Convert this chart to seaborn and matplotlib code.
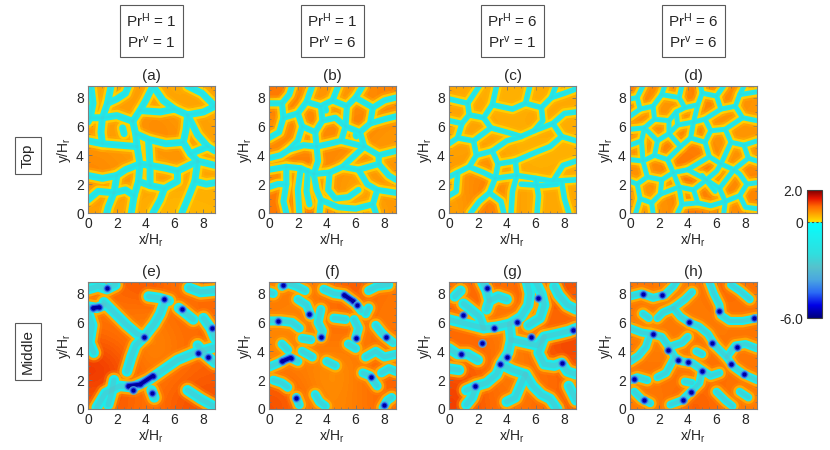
import numpy as np
import matplotlib
matplotlib.use("Agg")
import matplotlib.pyplot as plt
import seaborn as sns
from matplotlib.colors import LinearSegmentedColormap, Normalize
from matplotlib.cm import ScalarMappable

# ---- values ----
VMIN, VMAX = -6.0, 2.0
XMAX = 8.8
tick_vals = [0, 2, 4, 6, 8]
pr_h = ["1", "1", "6", "6"]
pr_v = ["1", "6", "1", "6"]
row_names = ["Top", "Middle"]
panel_tags = ["(a)", "(b)", "(c)", "(d)", "(e)", "(f)", "(g)", "(h)"]
cbar_ticks = [-6.0, 0.0, 2.0]
cbar_labels = ["-6.0", "0", "2.0"]

# coarse background level of the warm (upflow) regions, rows from top to bottom
bg_a = [[0.5, 0.6, 0.55, 0.45, 0.55], [0.6, 0.5, 0.85, 0.65, 0.5], [0.65, 0.6, 0.55, 0.75, 0.6],
        [0.8, 0.65, 0.6, 0.55, 0.5], [0.55, 0.5, 0.4, 0.35, 0.4]]
bg_b = [[0.9, 0.65, 0.6, 0.65, 0.8], [0.65, 0.85, 0.65, 0.9, 0.65], [0.75, 0.7, 0.8, 0.65, 0.6],
        [0.8, 0.95, 0.65, 0.55, 0.65], [0.85, 1.0, 0.65, 0.5, 0.6]]
bg_c = [[0.5, 0.45, 0.4, 0.45, 0.5], [0.55, 0.5, 0.45, 0.55, 0.45], [0.5, 0.55, 0.4, 0.35, 0.4],
        [0.65, 0.85, 0.55, 0.45, 0.5], [0.55, 0.9, 0.55, 0.45, 0.5]]
bg_d = [[0.8, 0.6, 0.85, 0.8, 0.65], [0.65, 0.55, 0.7, 0.6, 0.65], [0.7, 0.85, 0.9, 0.65, 0.6],
        [0.65, 0.75, 0.95, 0.7, 0.8], [0.6, 0.65, 0.9, 0.65, 0.75]]
bg_e = [[0.95, 1.05, 1.1, 0.9, 1.0], [0.9, 0.85, 0.8, 1.0, 0.95], [1.1, 1.0, 0.7, 0.9, 1.0],
        [1.35, 1.1, 0.85, 0.95, 1.05], [1.1, 1.05, 0.9, 1.1, 1.15]]
bg_f = [[0.85, 0.8, 0.95, 1.1, 0.9], [0.8, 0.75, 1.0, 0.95, 0.85], [0.7, 0.85, 0.9, 0.8, 1.0],
        [0.9, 0.8, 0.6, 0.85, 1.05], [1.15, 0.9, 0.7, 0.85, 1.0]]
bg_g = [[0.95, 1.05, 0.9, 1.2, 1.1], [1.0, 0.85, 0.8, 0.9, 0.95], [0.95, 1.05, 0.7, 1.1, 1.3],
        [1.1, 0.95, 0.8, 0.9, 1.0], [1.25, 1.0, 0.9, 0.95, 1.05]]
bg_h = [[0.9, 0.85, 0.8, 1.05, 0.9], [0.8, 0.9, 0.85, 0.8, 0.95], [0.85, 0.75, 0.95, 0.9, 0.85],
        [0.9, 0.95, 0.8, 1.0, 0.9], [0.85, 0.9, 1.1, 0.95, 0.85]]

# downflow lanes (x, y in H_r)
lanes_a = [
    [(0.2, 8.8), (0.35, 7.6), (0.15, 6.6), (0.0, 6.3)],
    [(0.15, 6.6), (1.0, 6.6), (2.0, 6.75), (3.1, 6.35)],
    [(1.6, 8.8), (1.35, 7.6), (1.0, 6.6)],
    [(1.35, 7.6), (2.0, 7.9), (2.6, 8.3), (2.8, 8.8)],
    [(3.1, 6.35), (3.6, 7.1), (4.0, 7.8), (4.5, 8.8)],
    [(1.0, 6.6), (0.9, 5.6), (1.0, 4.8)],
    [(0.0, 5.0), (1.0, 4.8), (2.2, 4.7), (3.4, 4.6)],
    [(3.1, 6.35), (3.3, 5.5), (3.4, 4.6)],
    [(3.3, 5.5), (4.2, 5.1), (5.4, 4.8), (6.6, 4.9)],
    [(3.6, 7.1), (5.0, 7.0), (6.0, 7.2)],
    [(4.5, 8.8), (5.2, 7.8), (6.0, 7.2), (6.9, 6.8), (8.0, 7.0), (8.8, 7.4)],
    [(6.9, 8.8), (7.9, 8.3), (8.8, 7.4)],
    [(6.9, 6.8), (6.8, 5.8), (6.6, 4.9), (7.1, 4.1), (7.6, 3.6)],
    [(6.9, 6.8), (7.6, 5.4), (8.3, 4.6), (8.8, 4.3)],
    [(7.1, 4.1), (7.8, 4.4), (8.3, 4.6)],
    [(3.4, 4.6), (3.6, 3.4), (3.5, 2.2), (3.2, 1.2), (3.0, 0.0)],
    [(3.6, 3.4), (4.3, 3.3), (5.4, 3.1), (6.2, 2.9), (7.0, 3.3), (7.6, 3.6), (8.8, 3.3)],
    [(4.2, 5.0), (4.3, 3.3), (4.3, 1.9)],
    [(3.5, 2.2), (4.3, 1.9), (5.3, 1.7), (6.2, 2.2), (6.2, 2.9)],
    [(7.6, 3.6), (7.4, 2.2), (7.0, 1.2), (6.5, 0.0)],
    [(5.3, 1.7), (5.0, 0.9), (4.5, 0.0)],
    [(0.0, 2.6), (1.0, 2.4), (2.0, 2.6), (2.6, 3.0), (3.6, 3.4)],
    [(2.0, 2.6), (1.8, 1.4), (1.4, 0.4), (1.3, 0.0)],
    [(1.8, 1.4), (2.6, 1.6), (3.2, 1.2)],
    [(0.0, 0.9), (0.7, 1.5), (1.8, 1.4)],
    [(7.4, 2.2), (8.2, 2.0), (8.8, 2.1)],
    [(2.4, 5.9), (2.5, 5.5)],
    [(7.6, 3.5), (7.62, 3.52)],
]
lanes_b = [
    [(0.0, 7.6), (0.9, 7.6), (1.4, 8.2), (1.6, 8.8)],
    [(0.9, 7.6), (1.0, 6.6), (0.7, 5.6), (0.0, 5.2)],
    [(1.0, 6.6), (2.0, 6.9), (2.6, 7.7), (3.0, 8.8)],
    [(2.0, 6.9), (2.3, 6.0), (2.0, 5.0), (1.4, 4.4)],
    [(0.0, 3.8), (0.8, 4.0), (1.4, 4.4), (2.4, 4.7), (3.3, 4.6)],
    [(2.3, 6.0), (3.2, 5.6), (3.3, 4.6)],
    [(2.6, 7.7), (3.6, 7.4), (4.4, 7.8), (4.8, 8.8)],
    [(3.6, 7.4), (3.7, 6.4), (3.2, 5.6)],
    [(3.7, 6.4), (4.6, 6.6), (5.3, 6.0), (5.0, 5.0), (4.2, 4.8), (3.3, 4.6)],
    [(4.4, 7.8), (5.4, 7.4), (6.0, 8.0), (6.5, 8.8)],
    [(5.4, 7.4), (5.3, 6.0)],
    [(5.3, 6.0), (6.3, 5.6), (7.0, 6.2), (7.2, 7.3), (6.0, 8.0)],
    [(7.2, 7.3), (8.0, 7.8), (8.8, 8.0)],
    [(7.0, 6.2), (8.0, 6.5), (8.8, 6.7)],
    [(6.3, 5.6), (6.6, 4.6), (7.6, 4.0), (8.8, 4.3)],
    [(5.0, 5.0), (6.6, 4.6)],
    [(0.0, 3.0), (1.2, 3.2), (2.2, 3.1), (3.1, 2.7), (4.2, 2.8), (5.1, 3.2), (6.6, 4.6)],
    [(3.3, 4.6), (3.4, 3.6), (3.1, 2.7)],
    [(5.1, 3.2), (6.2, 3.0), (7.6, 3.4), (7.6, 4.0)],
    [(7.6, 3.4), (8.3, 2.6), (8.8, 2.3)],
    [(1.2, 3.2), (1.2, 2.0), (1.0, 0.8), (1.2, 0.0)],
    [(2.2, 3.1), (2.0, 1.6), (2.1, 0.0)],
    [(2.7, 2.9), (2.6, 1.5), (2.8, 0.6)],
    [(3.1, 2.7), (3.3, 1.6), (3.6, 0.9), (3.5, 0.0)],
    [(0.0, 1.8), (0.6, 2.0), (1.2, 2.0)],
    [(4.2, 2.8), (4.1, 1.6), (4.6, 1.0), (5.5, 1.1), (6.2, 1.6)],
    [(6.2, 3.0), (6.8, 2.0), (7.5, 1.6), (8.8, 1.4)],
    [(7.5, 1.6), (7.2, 0.6), (7.4, 0.0)],
    [(3.6, 0.9), (4.8, 0.4), (6.0, 0.3), (7.2, 0.6)],
    [(3.9, 7.3), (3.95, 7.1)],
    [(6.0, 5.4), (6.05, 5.3)],
]
lanes_c = [
    [(0.0, 7.9), (1.3, 7.6), (2.1, 8.8)],
    [(1.3, 7.6), (1.4, 6.8), (0.9, 6.2), (0.0, 6.4)],
    [(1.4, 6.8), (2.4, 6.6), (3.0, 7.5), (3.3, 8.8)],
    [(3.0, 7.5), (4.4, 7.2), (5.3, 7.6), (5.6, 8.8)],
    [(5.3, 7.6), (6.4, 7.3), (7.1, 8.0), (7.4, 8.8)],
    [(7.1, 8.0), (8.0, 8.3), (8.8, 8.6)],
    [(6.4, 7.3), (6.5, 6.4), (5.9, 5.7)],
    [(2.4, 6.6), (2.9, 5.9), (4.0, 5.6), (5.0, 5.3), (5.9, 5.7), (7.2, 6.2), (8.0, 6.9), (8.8, 7.0)],
    [(7.2, 6.2), (7.8, 5.3), (8.8, 5.0)],
    [(0.9, 6.2), (0.6, 5.2), (0.0, 4.8)],
    [(0.6, 5.2), (1.7, 5.0), (2.9, 5.9)],
    [(1.7, 5.0), (1.9, 4.0), (1.4, 3.2), (0.6, 2.8), (0.0, 2.5)],
    [(1.9, 4.0), (3.0, 4.3), (4.0, 5.0), (5.0, 5.3)],
    [(3.0, 4.3), (3.4, 3.4), (3.2, 2.4)],
    [(3.4, 3.4), (4.6, 3.6), (6.0, 4.2), (7.0, 4.6), (7.8, 5.3)],
    [(4.6, 3.6), (4.7, 2.6), (4.4, 1.5), (4.3, 0.0)],
    [(1.4, 3.2), (2.4, 2.8), (3.2, 2.4), (4.7, 2.6)],
    [(4.7, 2.6), (6.0, 2.4), (7.2, 2.2), (8.8, 2.3)],
    [(5.0, 2.0), (6.5, 1.9), (7.5, 2.0)],
    [(7.2, 2.2), (7.9, 3.3), (8.8, 3.6)],
    [(3.2, 2.4), (2.8, 1.4), (2.1, 0.8), (1.5, 0.0)],
    [(0.6, 2.8), (0.5, 1.5), (0.0, 1.2)],
    [(2.8, 1.4), (3.6, 0.8), (3.8, 0.0)],
    [(6.0, 2.4), (6.2, 1.2), (6.1, 0.0)],
    [(7.8, 2.2), (8.0, 1.0), (8.3, 0.0)],
]
lanes_d = [
    [(0.0, 7.9), (0.5, 8.0), (0.9, 8.8)],
    [(0.5, 8.0), (0.7, 7.2), (0.0, 6.7)],
    [(0.7, 7.2), (1.6, 7.4), (2.2, 8.2), (2.4, 8.8)],
    [(2.2, 8.2), (3.4, 8.0), (3.6, 8.8)],
    [(3.4, 8.0), (3.8, 7.3), (4.7, 7.5), (5.0, 8.3), (4.9, 8.8)],
    [(5.0, 8.3), (6.0, 8.1), (6.5, 8.8)],
    [(6.0, 8.1), (6.3, 7.2), (7.3, 7.4), (7.6, 8.2), (8.8, 8.4)],
    [(7.6, 8.2), (7.9, 8.8)],
    [(7.3, 7.4), (7.8, 6.6), (8.8, 6.4)],
    [(1.6, 7.4), (1.7, 6.5), (1.0, 5.9), (0.0, 5.8)],
    [(1.7, 6.5), (2.7, 6.4), (3.2, 7.0), (3.8, 7.3)],
    [(3.2, 7.0), (3.3, 6.1), (2.7, 5.5)],
    [(2.7, 6.4), (2.7, 5.5), (1.9, 5.0), (1.0, 5.9)],
    [(1.0, 5.9), (0.8, 5.0), (0.0, 4.7)],
    [(3.3, 6.1), (4.4, 6.3), (4.7, 7.5)],
    [(4.4, 6.3), (5.2, 6.5), (6.3, 7.2)],
    [(5.2, 6.5), (5.6, 5.7), (6.6, 5.8), (7.8, 6.6)],
    [(6.6, 5.8), (7.0, 4.9), (7.9, 4.7), (8.8, 5.0)],
    [(7.9, 4.7), (8.2, 3.8), (8.8, 3.6)],
    [(4.4, 6.3), (4.2, 5.2), (3.5, 4.6), (2.7, 5.5)],
    [(4.2, 5.2), (5.2, 4.9), (5.6, 5.7)],
    [(5.2, 4.9), (5.5, 3.9), (6.3, 3.4), (7.0, 4.9)],
    [(6.3, 3.4), (7.2, 3.0), (8.2, 3.8)],
    [(1.9, 5.0), (1.7, 4.0), (0.9, 3.6), (0.0, 3.7)],
    [(0.8, 5.0), (0.9, 3.6)],
    [(1.7, 4.0), (2.6, 3.7), (3.5, 4.6)],
    [(2.6, 3.7), (3.0, 2.8), (4.0, 3.0), (5.5, 3.9)],
    [(3.0, 2.8), (2.2, 2.3), (1.2, 2.5), (0.9, 3.6)],
    [(1.2, 2.5), (0.5, 2.0), (0.0, 2.2)],
    [(0.5, 2.0), (0.7, 1.0), (0.4, 0.0)],
    [(2.2, 2.3), (2.1, 1.3), (1.5, 0.7), (0.7, 1.0)],
    [(1.5, 0.7), (1.6, 0.0)],
    [(3.0, 2.8), (3.4, 1.8), (2.1, 1.3)],
    [(3.4, 1.8), (4.4, 1.6), (5.3, 2.3), (4.0, 3.0)],
    [(4.4, 1.6), (4.7, 0.7), (3.6, 0.6), (3.4, 1.8)],
    [(3.6, 0.6), (3.3, 0.0)],
    [(5.3, 2.3), (6.0, 2.9), (6.3, 3.4)],
    [(5.3, 2.3), (6.2, 1.7), (7.2, 3.0)],
    [(5.0, 2.6), (5.9, 1.5)],
    [(6.2, 1.7), (6.6, 0.8), (6.5, 0.0)],
    [(4.7, 0.7), (5.6, 0.5), (6.6, 0.8)],
    [(6.6, 0.8), (7.6, 1.2), (8.1, 2.0), (8.8, 2.1)],
    [(8.1, 2.0), (7.6, 2.7), (7.2, 3.0)],
    [(7.6, 1.2), (8.0, 0.4), (8.8, 0.3)],
]

# plume paths and dark cores
lanes_e = [
    [(0.0, 8.3), (0.7, 8.5), (1.3, 8.3), (1.9, 8.6)],
    [(0.0, 7.1), (0.6, 7.0), (1.1, 7.2)],
    [(0.0, 6.7), (0.3, 5.8), (0.1, 4.6), (0.4, 3.9)],
    [(1.1, 7.4), (1.9, 6.6), (2.7, 5.8), (3.4, 5.2), (3.9, 5.0)],
    [(3.9, 5.0), (4.6, 5.9), (5.0, 6.6), (5.3, 7.4)],
    [(3.9, 5.0), (3.3, 4.4), (3.0, 3.6), (2.7, 2.6)],
    [(0.6, 0.1), (1.2, 1.1), (2.2, 1.6), (3.1, 1.5), (4.2, 2.0), (5.2, 2.7), (6.2, 3.4), (7.4, 3.9), (8.8, 4.3)],
    [(4.2, 7.8), (4.9, 7.7), (5.6, 7.5)],
    [(6.3, 7.0), (6.8, 6.6), (7.3, 6.2)],
    [(7.0, 8.4), (7.8, 8.1), (8.8, 8.2)],
    [(8.0, 6.3), (8.5, 5.6), (8.8, 4.9)],
    [(7.6, 4.4), (8.1, 3.8), (8.8, 3.2)],
    [(6.9, 1.3), (7.8, 0.7), (8.7, 0.2)],
    [(4.4, 1.3), (4.6, 0.8)],
    [(1.8, 2.0), (1.6, 1.0), (1.4, 0.3)],
]
cores_e = [
    [(1.35, 8.35)], [(0.35, 7.0), (0.75, 7.05)], [(3.9, 5.0)], [(2.8, 1.6), (3.6, 1.7), (4.5, 2.3)],
    [(3.1, 1.35)], [(4.45, 1.1)], [(5.3, 7.6)], [(6.5, 6.9)], [(8.6, 5.6)], [(7.6, 3.9)], [(8.3, 3.6)],
]
lanes_f = [
    [(0.9, 8.5), (1.3, 8.7), (1.9, 8.5), (2.5, 8.2)],
    [(3.8, 8.3), (4.5, 8.0), (5.2, 7.9), (6.0, 7.3), (6.4, 6.8)],
    [(6.9, 8.2), (7.5, 8.5), (8.3, 8.6)],
    [(0.0, 6.1), (0.8, 6.1), (1.6, 6.0), (2.1, 5.6)],
    [(2.0, 7.6), (2.6, 7.2), (2.9, 6.5)],
    [(3.6, 6.9), (3.4, 6.0), (3.7, 5.4), (3.6, 5.0)],
    [(4.5, 6.3), (5.3, 6.2)],
    [(5.9, 6.2), (6.2, 5.6), (6.0, 4.9)],
    [(6.7, 6.6), (6.9, 7.0)],
    [(7.4, 5.8), (7.8, 5.3), (8.1, 5.0), (8.6, 4.6)],
    [(0.0, 2.9), (0.7, 3.2), (1.4, 3.6), (2.0, 3.3)],
    [(0.9, 4.5), (1.3, 4.1)],
    [(2.3, 4.0), (3.0, 3.6)],
    [(4.0, 3.3), (4.6, 3.0)],
    [(2.9, 4.8), (2.3, 4.9)],
    [(0.3, 2.0), (0.9, 1.8), (1.3, 1.5)],
    [(1.9, 0.8), (2.1, 0.3)],
    [(3.2, 1.0), (3.5, 0.5), (3.9, 0.2)],
    [(6.5, 2.5), (7.0, 2.3), (7.5, 1.6)],
    [(6.7, 3.6), (7.4, 4.0), (8.0, 3.6), (8.8, 3.8)],
    [(7.8, 2.5), (8.3, 2.8), (8.8, 2.6)],
    [(7.9, 0.1), (8.2, 0.6), (8.5, 0.8)],
    [(5.5, 4.5), (6.0, 4.2)],
    [(0.0, 8.1), (0.3, 8.0)],
]
cores_f = [
    [(1.0, 8.6)], [(5.2, 7.9), (5.8, 7.5)], [(6.1, 7.2)], [(0.6, 6.1)], [(3.6, 5.0)], [(6.0, 4.95)],
    [(0.9, 3.3), (1.5, 3.55)], [(1.9, 0.75)], [(8.1, 5.0)], [(7.95, 0.3)], [(7.1, 2.2)], [(2.8, 6.6)],
]
lanes_g = [
    [(2.3, 8.8), (2.6, 8.2), (2.8, 7.5), (2.6, 6.9)],
    [(0.0, 6.2), (0.8, 6.0), (1.6, 5.8), (2.4, 5.6), (3.3, 5.7), (4.2, 5.9), (5.0, 6.4), (5.5, 7.2), (5.6, 8.0), (5.4, 8.8)],
    [(2.4, 5.6), (2.1, 6.4), (1.5, 6.9), (1.0, 7.3)],
    [(6.0, 8.8), (6.4, 8.0), (6.6, 7.2), (6.3, 6.3), (5.5, 5.8)],
    [(7.3, 8.5), (7.6, 7.9), (8.2, 7.2), (8.8, 6.9)],
    [(0.0, 4.2), (0.6, 3.8), (1.3, 3.8), (2.0, 3.4)],
    [(4.2, 5.9), (4.3, 4.8), (4.1, 3.9), (3.6, 3.1), (3.3, 2.4), (2.6, 1.8), (1.9, 1.6), (1.2, 1.3)],
    [(4.3, 4.8), (5.2, 4.6), (6.1, 4.4), (6.6, 5.0), (7.5, 5.2), (8.3, 5.4), (8.8, 5.6)],
    [(6.6, 5.0), (6.2, 3.9), (6.6, 3.1), (7.3, 3.0), (7.8, 3.2), (8.2, 2.6), (8.8, 2.4)],
    [(3.6, 3.1), (4.4, 2.7), (5.3, 2.4), (5.8, 1.6), (6.4, 1.0), (7.0, 0.7), (7.5, 0.0)],
    [(5.3, 2.4), (4.9, 1.5), (4.6, 0.8), (4.0, 0.5)],
    [(0.0, 2.8), (0.7, 2.7)],
    [(1.9, 1.6), (1.6, 0.8), (1.2, 0.3)],
    [(8.3, 1.6), (8.6, 1.0), (8.8, 0.6)],
    [(2.8, 7.5), (3.4, 7.8), (4.0, 7.6)],
    [(0.4, 7.8), (0.8, 8.2)],
]
cores_g = [
    [(2.6, 8.4)], [(1.0, 6.5)], [(3.5, 3.1)], [(4.0, 3.6)], [(1.8, 1.6)], [(7.8, 3.2)], [(8.6, 5.5)],
    [(4.7, 6.0)], [(0.8, 3.8)], [(2.3, 4.6)], [(6.2, 7.7)], [(5.7, 5.0)], [(3.1, 5.6)],
]
lanes_h = [
    [(0.0, 7.8), (0.8, 8.0), (1.6, 7.7), (2.4, 7.9), (3.0, 8.5), (3.2, 8.8)],
    [(3.0, 7.0), (3.5, 6.4), (4.1, 6.0), (4.8, 5.7), (5.4, 5.2), (5.9, 4.4)],
    [(5.5, 8.8), (5.8, 8.0), (6.2, 7.2), (6.3, 6.5), (6.9, 6.1), (7.8, 6.1), (8.8, 6.3)],
    [(0.0, 5.6), (0.8, 5.3), (1.4, 5.2), (2.2, 5.0), (2.7, 4.3), (3.1, 3.6), (3.6, 3.3), (4.3, 3.2),
     (5.0, 2.7), (5.6, 2.3), (6.2, 2.5)],
    [(1.4, 5.2), (1.1, 4.3), (0.6, 3.7), (0.0, 3.3)],
    [(2.7, 4.3), (3.6, 4.6), (4.0, 5.0)],
    [(5.9, 4.4), (6.7, 3.6), (7.2, 2.9), (7.9, 2.4), (8.8, 2.0)],
    [(5.0, 2.7), (4.8, 1.8), (4.2, 1.2), (3.6, 0.6), (2.8, 0.3)],
    [(0.3, 1.2), (0.8, 0.7), (1.4, 0.4)],
    [(1.9, 2.2), (2.5, 2.5), (3.1, 3.6)],
    [(0.0, 2.0), (0.5, 2.2), (1.2, 2.0)],
    [(7.0, 8.6), (7.6, 8.2), (8.3, 7.6)],
    [(1.9, 6.3), (2.3, 6.7), (3.0, 7.0), (3.8, 7.6), (4.3, 8.1)],
    [(6.7, 3.6), (7.3, 4.4), (8.0, 4.5), (8.8, 4.2)],
    [(6.0, 1.2), (6.6, 0.6), (7.1, 0.2)],
    [(7.6, 1.2), (8.2, 0.8)],
    [(4.6, 4.0), (5.0, 3.8)],
    [(0.9, 6.6), (1.3, 6.3)],
    [(3.8, 1.9), (4.3, 1.8)],
]
cores_h = [
    [(0.9, 8.0)], [(2.2, 7.9)], [(4.1, 6.0)], [(2.6, 4.1)], [(3.3, 3.4)], [(4.0, 3.25)], [(5.0, 2.6)],
    [(7.0, 3.1)], [(7.9, 2.4)], [(4.2, 1.2)], [(3.7, 0.6)], [(1.0, 0.6)], [(0.3, 2.1)], [(6.2, 6.8)],
    [(8.6, 6.3)], [(7.4, 4.3)], [(5.7, 4.6)], [(1.6, 5.2)],
]

panels = [
    (bg_a, lanes_a, [], 5.0), (bg_b, lanes_b, [], 4.4), (bg_c, lanes_c, [], 4.0), (bg_d, lanes_d, [], 3.6),
    (bg_e, lanes_e, cores_e, 7.5), (bg_f, lanes_f, cores_f, 6.5), (bg_g, lanes_g, cores_g, 7.5),
    (bg_h, lanes_h, cores_h, 5.8),
]

# ---- colour table: blue/cyan for downflow, yellow->red for upflow ----
anchors = [(-6.0, "#00007a"), (-5.2, "#0000e6"), (-4.4, "#2a6af5"), (-3.6, "#4aa6e0"),
           (-2.8, "#55c2cc"), (-2.0, "#30dede"), (-0.8, "#18f0f0"), (-0.01, "#00ffff"),
           (0.0, "#ffe600"), (0.5, "#ffa800"), (1.0, "#ff6a00"), (1.5, "#e61400"), (2.0, "#800000")]
cmap = LinearSegmentedColormap.from_list(
    "idl_like", [((v - VMIN) / (VMAX - VMIN), c) for v, c in anchors])
norm = Normalize(VMIN, VMAX)

sns.set_theme(style="ticks")
plt.rcParams["font.family"] = ["Liberation Sans", "DejaVu Sans"]
plt.rcParams["mathtext.fontset"] = "custom"
plt.rcParams["mathtext.rm"] = "Liberation Sans"
plt.rcParams["mathtext.it"] = "Liberation Sans:italic"

fig = plt.figure(figsize=(8.3, 4.5), dpi=100)
W, H = 830.0, 450.0
col_left = [88, 269, 449, 630]
row_top = [86, 282]
size = 127

line_kw = dict(solid_capstyle="round", solid_joinstyle="round")


def draw_panel(ax, bg, lanes, cores, lw, top):
    ax.imshow(np.array(bg), extent=[0, XMAX, 0, XMAX], cmap=cmap, norm=norm,
              interpolation="bicubic", aspect="auto", origin="upper")
    # warm rim just outside the lanes
    rim = 0.12 if top else 0.4
    for ln in lanes:
        xs, ys = zip(*ln)
        ax.plot(xs, ys, color=cmap(norm(rim + 0.2)), lw=lw + 7.0, alpha=0.3, **line_kw)
    for ln in lanes:
        xs, ys = zip(*ln)
        ax.plot(xs, ys, color=cmap(norm(rim)), lw=lw + 3.5, alpha=0.8, **line_kw)
    for ln in lanes:
        xs, ys = zip(*ln)
        ax.plot(xs, ys, color=cmap(norm(-1.1)), lw=lw, **line_kw)
    for ln in lanes:
        xs, ys = zip(*ln)
        if top:
            ax.plot(xs, ys, color=cmap(norm(-2.3)), lw=lw * 0.4, alpha=0.4, **line_kw)
        else:
            ax.plot(xs, ys, color=cmap(norm(-2.8)), lw=lw * 0.5, alpha=0.55, **line_kw)
    for c in cores:
        xs, ys = zip(*c)
        ax.plot(xs, ys, color=cmap(norm(-3.4)), lw=6.0, marker="o", ms=6.5, mew=0, alpha=0.8, **line_kw)
        ax.plot(xs, ys, color=cmap(norm(-4.6)), lw=4.2, marker="o", ms=4.6, mew=0, **line_kw)
        ax.plot(xs, ys, color=cmap(norm(-5.7)), lw=2.6, marker="o", ms=3.0, mew=0, **line_kw)
    ax.set_xlim(0, XMAX)
    ax.set_ylim(0, XMAX)
    ax.set_xticks(tick_vals)
    ax.set_yticks(tick_vals)
    ax.set_xticks(np.arange(0, XMAX, 0.5), minor=True)
    ax.set_yticks(np.arange(0, XMAX, 0.5), minor=True)
    ax.tick_params(which="both", direction="in", top=True, right=True, color="0.45",
                   labelsize=10, pad=3)
    ax.tick_params(which="major", length=3, width=0.6)
    ax.tick_params(which="minor", length=1.5, width=0.5)
    for s in ax.spines.values():
        s.set_color("0.5")
        s.set_linewidth(0.8)
    ax.set_xlabel(r"x/H$_{\rm r}$", fontsize=10, labelpad=0)
    ax.set_ylabel(r"y/H$_{\rm r}$", fontsize=10, labelpad=2)


for i, (bg, lanes, cores, lw) in enumerate(panels):
    r, c = divmod(i, 4)
    ax = fig.add_axes([col_left[c] / W, 1 - (row_top[r] + size) / H, size / W, size / H])
    draw_panel(ax, bg, lanes, cores, lw, r == 0)
    ax.set_title(panel_tags[i], fontsize=11, pad=4)

box = dict(boxstyle="square,pad=0.4", fc="white", ec="0.35", lw=0.8)
for c in range(4):
    cx = (col_left[c] + size / 2) / W
    fig.text(cx, 1 - 31 / H, "Pr$^{\\rm H}$ = %s\nPr$^{\\rm v}$ = %s" % (pr_h[c], pr_v[c]),
             ha="center", va="center", fontsize=11, linespacing=1.35, bbox=box)

for r, name in enumerate(row_names):
    fig.text(28 / W, 1 - (row_top[r] + size / 2 + 6) / H, name, rotation=90,
             ha="center", va="center", fontsize=11, bbox=box)

cax = fig.add_axes([807 / W, 1 - 318 / H, 15 / W, 128 / H])
cb = fig.colorbar(ScalarMappable(norm=norm, cmap=cmap), cax=cax, ticks=cbar_ticks)
cb.ax.set_yticklabels(cbar_labels)
cb.ax.yaxis.set_ticks_position("left")
cb.ax.yaxis.set_label_position("left")
cb.ax.tick_params(length=0, labelsize=10, pad=3)
cb.outline.set_linewidth(0.8)
cb.outline.set_edgecolor("0.25")
cax.axhline(0, color="0.3", lw=0.8, ls=(0, (2, 2)))

fig.savefig("out.png", dpi=100)
